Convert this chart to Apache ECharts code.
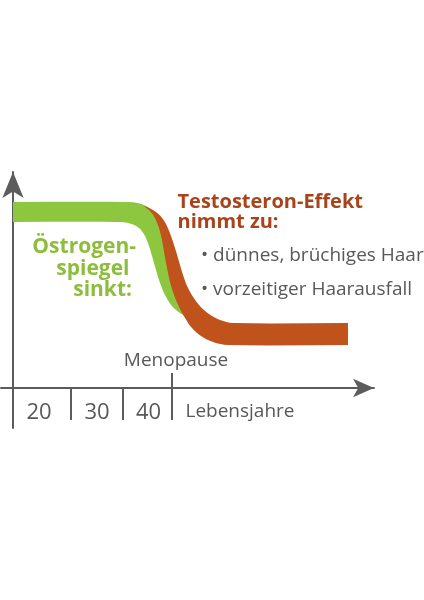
<!DOCTYPE html>
<html><head><meta charset="utf-8">
<script src="https://cdn.jsdelivr.net/npm/echarts@6/dist/echarts.min.js"></script>
<style>html,body{margin:0;padding:0;background:#fff}#c{width:424px;height:600px}</style>
</head><body><div id="c"></div><script>
// x = Lebensjahre (age scale), y = hormone level (arbitrary units)
const ageTickValues = [24.5, 37.5];
const menopauseAge = 49.75;
const menopauseTickTop = 7.5;
const ageLabelValues = [16.5, 31, 43.9, 66.75];
const ageLabels = ['20', '30', '40', 'Lebensjahre'];

// Östrogen band: upper and lower edge
const estrogenUpper = [[10,93],[38.75,93],[41.25,92.5],[43.25,91],[44.75,88.5],[46,85],[47,80],[48,74],[48.75,66.5],[49.5,60],[50.5,53],[51.75,46],[53.5,40],[55.75,35]];
const estrogenLower = [[10,83],[36.25,83],[39.25,82.25],[41.5,80],[43,76],[44,71],[44.75,66],[45.75,59],[46.75,52.5],[48,46.5],[49.75,41],[51.75,37.5],[53.75,35]];
// Testosteron-Effekt band: upper and lower edge
const testoUpper = [[42.5,91.25],[44.75,89.25],[46.75,86.25],[48.25,82],[49.5,76],[50.5,70],[51.25,65],[52.5,56.5],[54,49],[56.5,41.5],[59,37],[61.75,34],[65,32.5],[93.75,32.5]];
const testoLower = [[42.5,91.25],[44.25,88.5],[45.5,85],[46.5,80],[47.25,74],[47.9,66.5],[48.5,60],[49.25,53],[50.25,46.5],[51.5,40.5],[53,35],[54.75,30],[57,26],[60,23],[63.75,21.5],[93.75,21.5]];

const GREEN = '#8dc63f', ORANGE = '#c0521b', AXIS = '#5c5c5c', GREY = '#585858';
const FONT = '"Open Sans", "Noto Sans", sans-serif';

// smooth edge through points; tangents scaled by segment length (no overshoot)
function smoothSeg(p, first) {
  const n = p.length;
  const tan = p.map((pt, i) => {
    const a = p[Math.max(0, i - 1)], b = p[Math.min(n - 1, i + 1)];
    const dx = b[0] - a[0], dy = b[1] - a[1];
    const l = Math.hypot(dx, dy) || 1;
    return [dx / l, dy / l];
  });
  let d = (first ? 'M' : 'L') + p[0][0] + ' ' + p[0][1];
  for (let i = 0; i < n - 1; i++) {
    const p1 = p[i], p2 = p[i + 1];
    const L = Math.hypot(p2[0] - p1[0], p2[1] - p1[1]) / 3;
    const c1 = [p1[0] + tan[i][0] * L, p1[1] + tan[i][1] * L];
    const c2 = [p2[0] - tan[i + 1][0] * L, p2[1] - tan[i + 1][1] * L];
    d += ' C' + c1[0] + ' ' + c1[1] + ' ' + c2[0] + ' ' + c2[1] + ' ' + p2[0] + ' ' + p2[1];
  }
  return d;
}
function bandSeries(name, upper, lower, color, z) {
  return {
    type: 'custom', name: name, z: z, clip: false, silent: true,
    data: [[upper[0][0], upper[0][1]]],
    renderItem: function (params, api) {
      const up = upper.map(p => api.coord(p));
      const lo = lower.map(p => api.coord(p)).reverse();
      const d = smoothSeg(up, true) + ' ' + smoothSeg(lo, false) + ' Z';
      return { type: 'path', shape: { pathData: d }, style: { fill: color } };
    }
  };
}

const chart = echarts.init(document.getElementById('c'), null, { renderer: 'canvas' });
chart.setOption({
  animation: false,
  grid: { left: 1, right: 50, top: 172, bottom: 172 },
  xAxis: {
    type: 'value', min: 7, max: 100.25,
    axisLine: { onZero: true, lineStyle: { color: AXIS, width: 2 }, symbol: ['none', 'arrow'], symbolSize: [14, 21] },
    axisTick: { show: true, customValues: ageTickValues.concat([menopauseAge]), length: 32, lineStyle: { color: AXIS, width: 2 } },
    axisLabel: {
      customValues: ageLabelValues, margin: -26, color: GREY, fontFamily: FONT, fontSize: 22,
      formatter: function (v) {
        const i = ageLabelValues.findIndex(a => Math.abs(a - v) < 0.01);
        const t = i >= 0 ? ageLabels[i] : '';
        return i === ageLabels.length - 1 ? '{w|' + t + '}' : t;
      },
      rich: { w: { fontSize: 19, fontFamily: FONT, color: GREY } }
    },
    splitLine: { show: false }
  },
  yAxis: {
    type: 'value', min: -20, max: 108, offset: -12,
    axisLine: { show: true, onZero: false, lineStyle: { color: AXIS, width: 2 }, symbol: ['none', 'arrow'], symbolSize: [16, 26] },
    axisTick: { show: false }, axisLabel: { show: false }, splitLine: { show: false }
  },
  series: [
    bandSeries('Östrogen', estrogenUpper, estrogenLower, GREEN, 2),
    bandSeries('Testosteron', testoUpper, testoLower, ORANGE, 3),
    {
      type: 'line', name: 'Menopause', z: 4, symbol: 'none', silent: true,
      data: [[menopauseAge, 0], [menopauseAge, menopauseTickTop]],
      lineStyle: { color: AXIS, width: 2 }
    }
  ],
  graphic: [
    { type: 'text', x: 136, y: 247.5, style: { text: 'Östrogen-', fontFamily: FONT, fontWeight: 'bold', fontSize: 21, fill: '#8cbd3c', align: 'right', verticalAlign: 'middle' } },
    { type: 'text', x: 129.5, y: 269.5, style: { text: 'spiegel', fontFamily: FONT, fontWeight: 'bold', fontSize: 21, fill: '#8cbd3c', align: 'right', verticalAlign: 'middle' } },
    { type: 'text', x: 132, y: 290.5, style: { text: 'sinkt:', fontFamily: FONT, fontWeight: 'bold', fontSize: 21, fill: '#8cbd3c', align: 'right', verticalAlign: 'middle' } },
    { type: 'text', x: 177.5, y: 202, style: { text: 'Testosteron-Effekt', fontFamily: FONT, fontWeight: 'bold', fontSize: 20, fill: '#a8431b', align: 'left', verticalAlign: 'middle' } },
    { type: 'text', x: 177.5, y: 222, style: { text: 'nimmt zu:', fontFamily: FONT, fontWeight: 'bold', fontSize: 20, fill: '#a8431b', align: 'left', verticalAlign: 'middle' } },
    { type: 'text', x: 201, y: 256, style: { text: '• dünnes, brüchiges Haar', fontFamily: FONT, fontSize: 19, fill: GREY, align: 'left', verticalAlign: 'middle' } },
    { type: 'text', x: 201, y: 290, style: { text: '• vorzeitiger Haarausfall', fontFamily: FONT, fontSize: 19, fill: GREY, align: 'left', verticalAlign: 'middle' } },
    { type: 'text', x: 176, y: 360.5, style: { text: 'Menopause', fontFamily: FONT, fontSize: 19, fill: GREY, align: 'center', verticalAlign: 'middle' } }
  ]
});
</script></body></html>
